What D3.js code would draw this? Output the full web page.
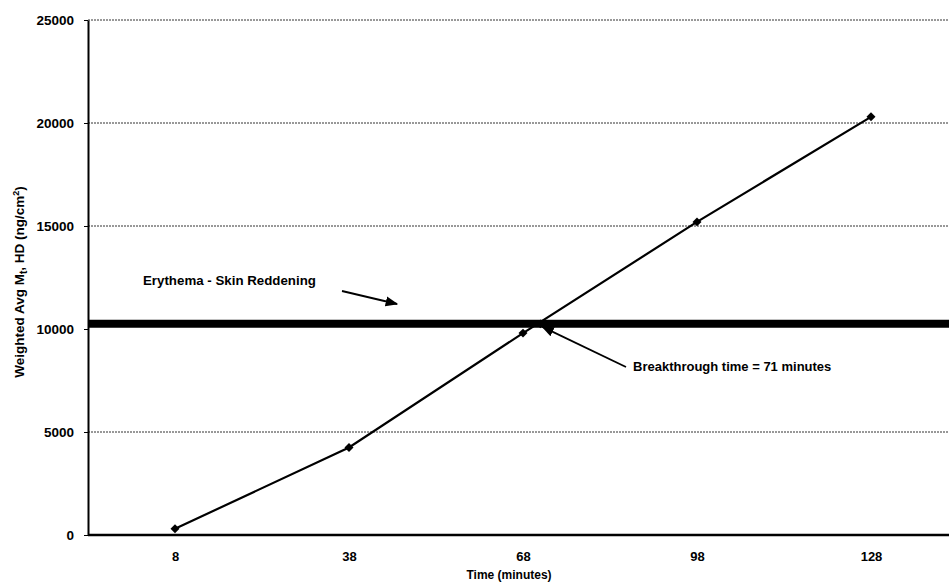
<!DOCTYPE html>
<html><head><meta charset="utf-8">
<script src="https://cdn.jsdelivr.net/npm/d3@7"></script>
<style>html,body{margin:0;padding:0;background:#fff;}svg{display:block;}</style>
</head><body>
<svg id="chart" width="949" height="584"></svg>
<script>
const times = [8, 38, 68, 98, 128];
const values = [300, 4250, 9800, 15200, 20300];
const breakthroughTime = 71;
const thresholdValue = 10250;
const xTicks = [8, 38, 68, 98, 128];
const yTicks = [0, 5000, 10000, 15000, 20000, 25000];
const gridValues = [5000, 15000, 20000, 25000];
const yTitle = "Weighted Avg M";
const yTitleSub = "t";
const yTitleRest = ", HD (ng/cm";
const xTitle = "Time (minutes)";
const noteErythema = "Erythema - Skin Reddening";
const noteBreak = "Breakthrough time = 71 minutes";

const svg = d3.select("#chart");
const font = "Arial, 'Liberation Sans', sans-serif";
const x = d3.scaleLinear().domain([-7, 143]).range([88, 958]);
const y = d3.scaleLinear().domain([0, 25000]).range([535, 20]);

svg.append("defs").append("marker").attr("id","ah").attr("viewBox","0 0 10 10")
  .attr("refX",9).attr("refY",5).attr("markerWidth",7).attr("markerHeight",7).attr("orient","auto")
  .append("path").attr("d","M0,1 L10,5 L0,9 Z").attr("fill","#000");

// gridlines
svg.append("g").selectAll("line").data(gridValues).join("line")
  .attr("x1", 88).attr("x2", 949).attr("y1", d=>y(d)).attr("y2", d=>y(d))
  .attr("stroke", "#333").attr("stroke-width", 1).attr("stroke-dasharray", "2,1");

// threshold line
svg.append("line").attr("x1", 88).attr("x2", 949)
  .attr("y1", y(thresholdValue)).attr("y2", y(thresholdValue))
  .attr("stroke", "#000").attr("stroke-width", 8);

// axes
const yAxis = d3.axisLeft(y).tickValues(yTicks).tickSize(4).tickSizeOuter(0).tickFormat(d3.format("d"));
const gy = svg.append("g").attr("transform","translate(88,0)").call(yAxis);
gy.select(".domain").attr("stroke-width", 2);
gy.selectAll("text").attr("font-family", font).attr("font-weight","bold").attr("font-size", 13.5).attr("x", -14);

const xAxis = d3.axisBottom(x).tickValues(xTicks).tickSize(0).tickSizeOuter(0);
const gx = svg.append("g").attr("transform","translate(0,535)").call(xAxis);
gx.select(".domain").attr("stroke-width", 2.5).attr("d","M88,0H949");
gx.selectAll("text").attr("font-family", font).attr("font-weight","bold").attr("font-size", 13).attr("dy", "1.75em");

// data line
const pts = times.map((t,i)=>({t, v: values[i]}));
svg.append("path").datum(pts)
  .attr("d", d3.line().x(d=>x(d.t)).y(d=>y(d.v)))
  .attr("fill","none").attr("stroke","#000").attr("stroke-width", 2.2);

const diamond = d3.symbol().type(d3.symbolSquare).size(40);
svg.append("g").selectAll("path").data(pts).join("path")
  .attr("d", diamond).attr("transform", d=>`translate(${x(d.t)},${y(d.v)}) rotate(45)`).attr("fill","#000");
svg.append("path").attr("d", diamond)
  .attr("transform", `translate(${x(breakthroughTime)},${y(thresholdValue)}) rotate(45)`).attr("fill","#000");

// annotations
svg.append("text").attr("x", 143).attr("y", 285).text(noteErythema)
  .attr("font-family", font).attr("font-weight","bold").attr("font-size", 13.3);
svg.append("line").attr("x1", 342).attr("y1", 291).attr("x2", 397).attr("y2", 304)
  .attr("stroke","#000").attr("stroke-width",1.8).attr("marker-end","url(#ah)");

svg.append("line").attr("x1", 626).attr("y1", 367).attr("x2", x(breakthroughTime)+2).attr("y2", y(thresholdValue)+3)
  .attr("stroke","#000").attr("stroke-width",1.8).attr("marker-end","url(#ah)");
svg.append("text").attr("x", 633).attr("y", 371).text(noteBreak)
  .attr("font-family", font).attr("font-weight","bold").attr("font-size", 13);

// axis titles
svg.append("text").attr("x", 509).attr("y", 579).attr("text-anchor","middle").text(xTitle)
  .attr("font-family", font).attr("font-weight","bold").attr("font-size", 12);

const yt = svg.append("text").attr("transform","translate(24,282) rotate(-90)").attr("text-anchor","middle")
  .attr("font-family", font).attr("font-weight","bold").attr("font-size", 13.5);
yt.append("tspan").text(yTitle);
yt.append("tspan").text(yTitleSub).attr("font-size", 10).attr("dy", 3);
yt.append("tspan").text(yTitleRest).attr("dy", -3);
yt.append("tspan").text("2").attr("font-size", 9).attr("dy", -5);
yt.append("tspan").text(")").attr("dy", 5);
</script>
</body></html>
